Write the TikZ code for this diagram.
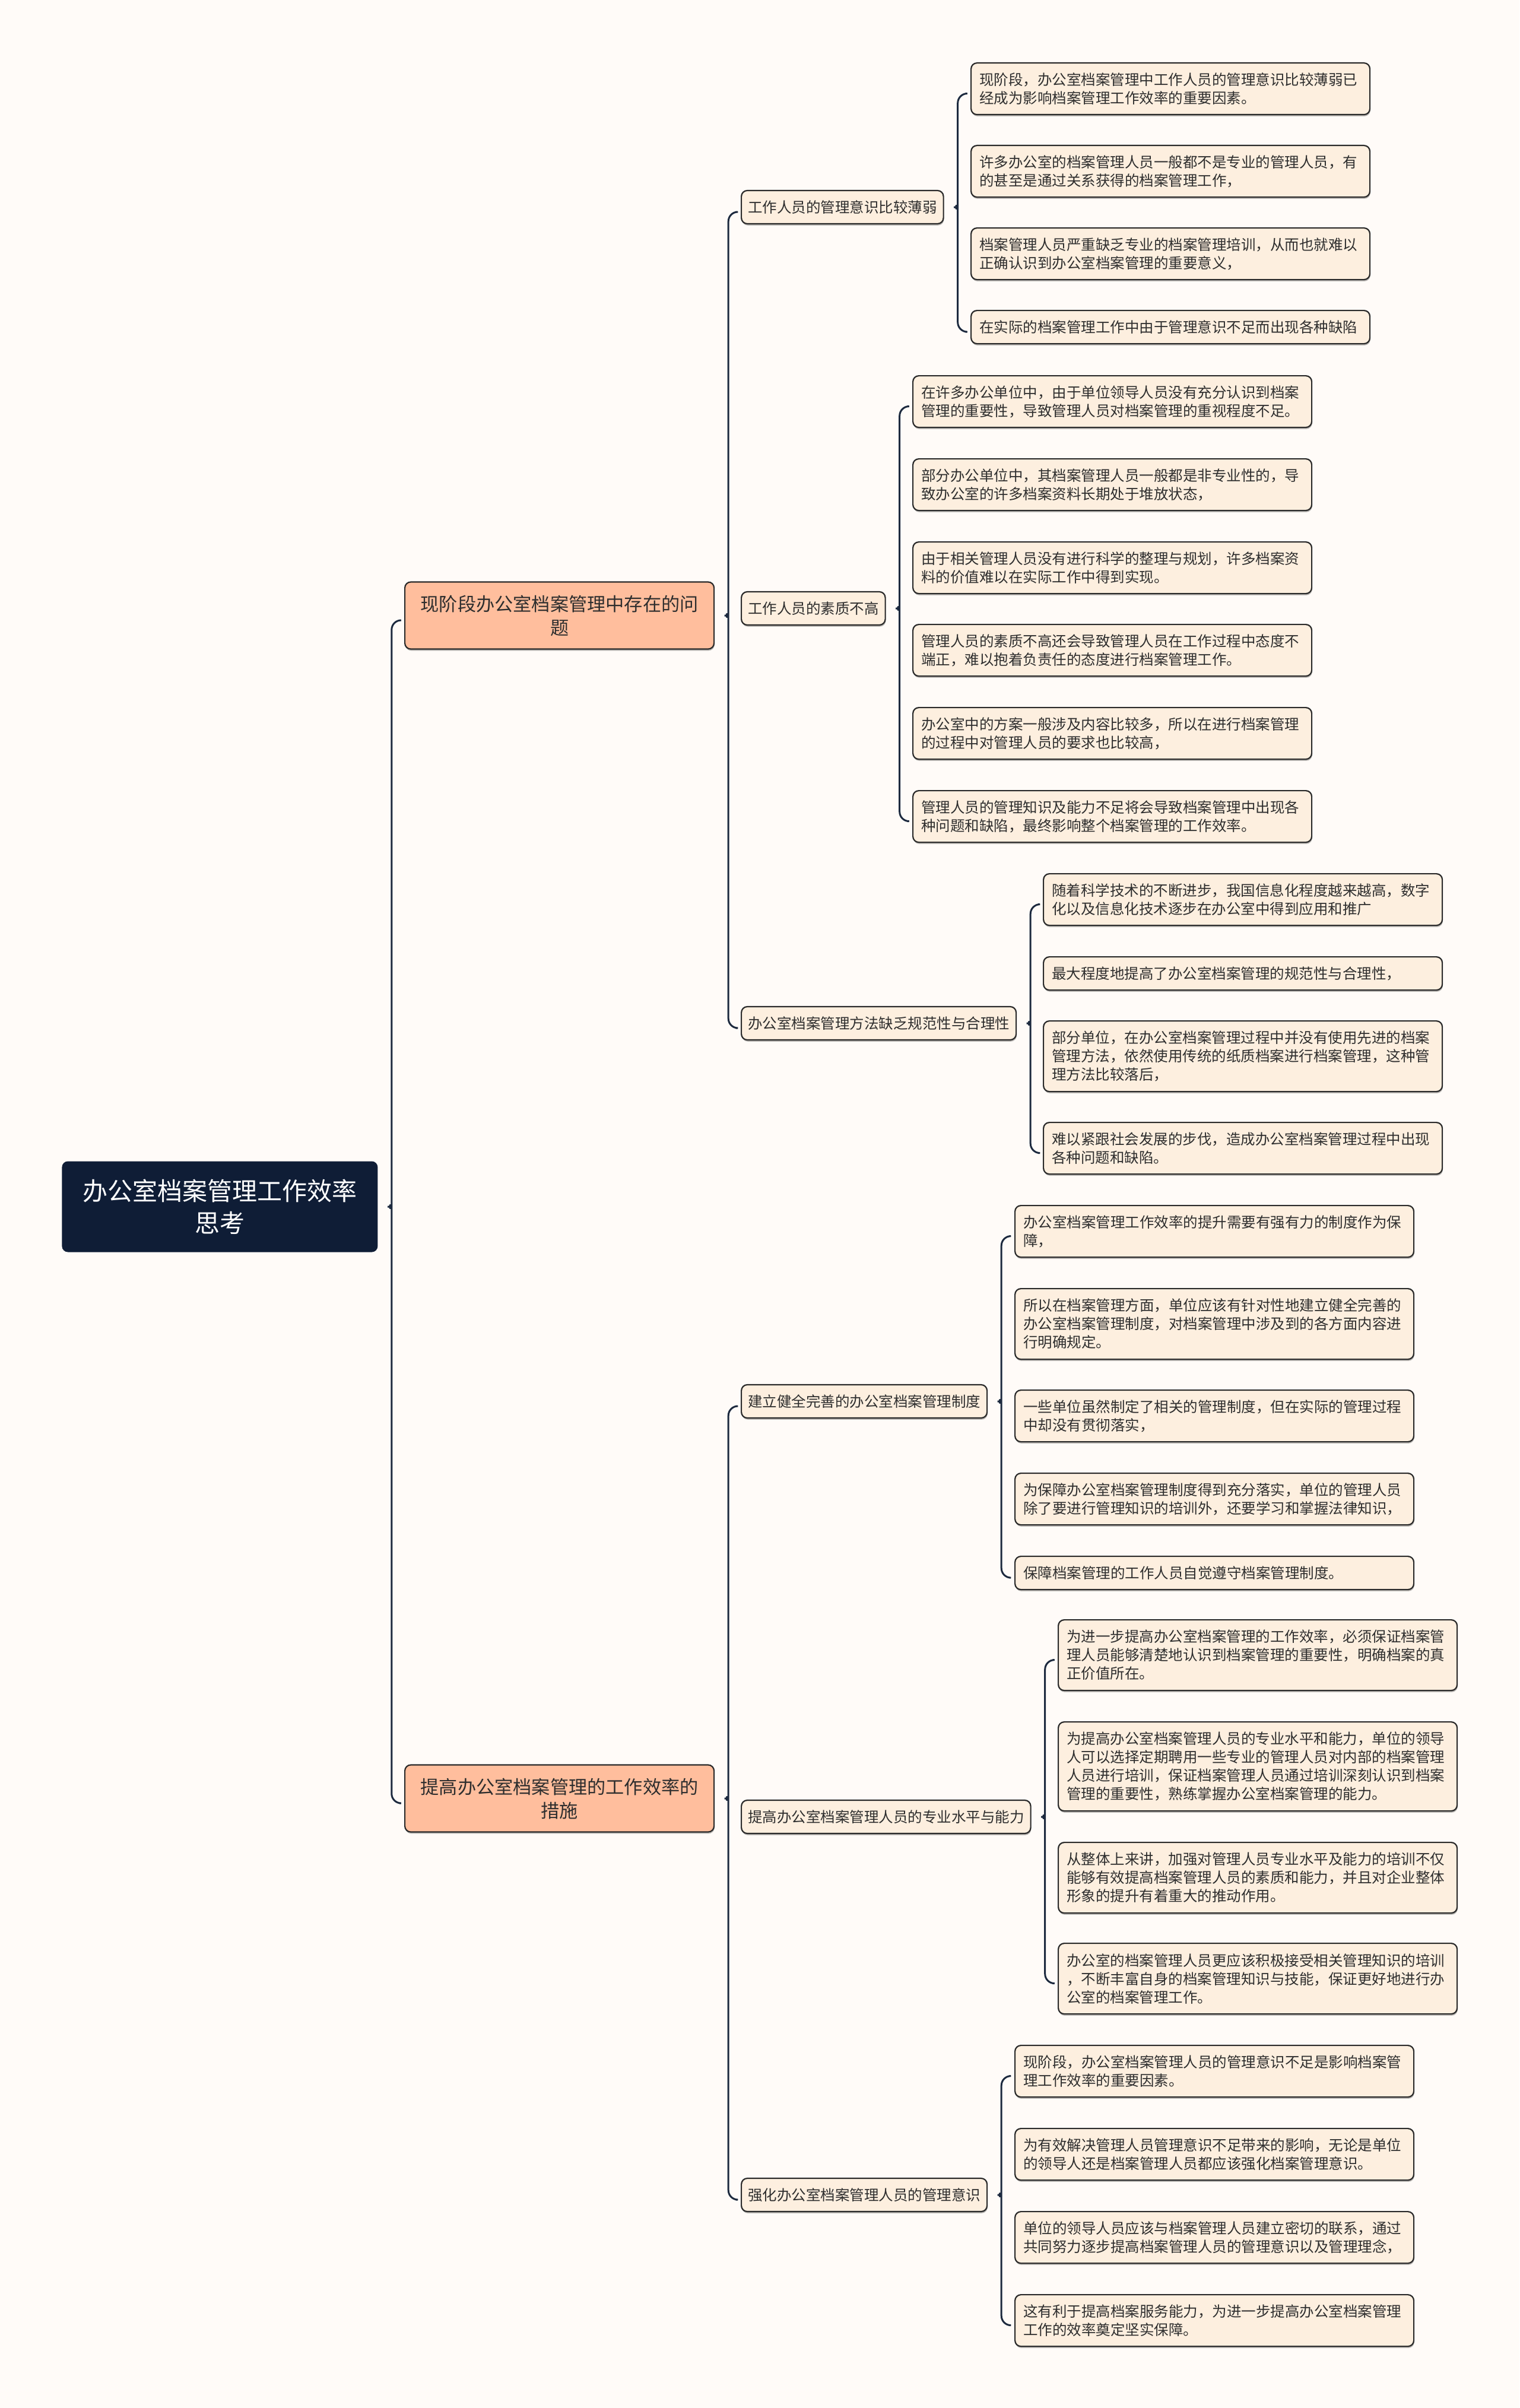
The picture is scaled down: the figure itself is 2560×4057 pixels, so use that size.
\documentclass[tikz,border=0pt]{standalone}
\usepackage{fontspec}
\newfontfamily\cjk{Noto Sans CJK SC}
\usetikzlibrary{calc,shadows}
\definecolor{bgc}{HTML}{FFFBF8}
\definecolor{rootc}{HTML}{0F1D36}
\definecolor{onec}{HTML}{FFBE9D}
\definecolor{leafc}{HTML}{FDEFDF}
\definecolor{linec}{HTML}{1D2A3F}
\definecolor{boxc}{HTML}{2A2A2A}
\definecolor{txtc}{HTML}{2E2E2E}
\newcommand{\fleaf}{\cjk\fontsize{12.25pt}{15.5pt}\selectfont}
\newcommand{\fone}{\cjk\fontsize{15.6pt}{20pt}\selectfont}
\newcommand{\froot}{\cjk\fontsize{21pt}{27pt}\selectfont}
\newcommand{\mmlink}[3]{%
  \draw[conn] let \p1=(#1.east), \p2=(#2.west), \p3=(#3.west) in
    (\x2-4pt,\y2-4pt) -- (\x1+11.5pt,\y2-4pt) -- (\x1+11.5pt,\y1+8pt)
    .. controls (\x1+11.5pt,\y1+3pt) and (\x1+8pt,\y1) .. (\x1+3.5pt,\y1)
    .. controls (\x1+8pt,\y1) and (\x1+11.5pt,\y1-3pt) .. (\x1+11.5pt,\y1-8pt)
    -- (\x1+11.5pt,\y3-4pt) -- (\x3-4pt,\y3-4pt);}
\begin{document}
\begin{tikzpicture}[x=0.5pt,y=-0.5pt,
  box/.style={draw=boxc, line width=1.1pt, rounded corners=5pt, text=txtc,
    drop shadow={shadow xshift=0.4pt, shadow yshift=-1.4pt, opacity=0.28, fill=black}},
  rootbox/.style={anchor=west, fill=rootc, text=white, font=\froot, align=center,
    minimum width=266pt, minimum height=76.5pt, rounded corners=5pt, inner sep=0pt},
  onebox/.style={box, anchor=west, fill=onec, font=\fone, align=center,
    minimum width=260.5pt, minimum height=56.5pt, inner sep=0pt},
  midbox/.style={box, anchor=west, fill=leafc, font=\fleaf, inner xsep=5.5pt, inner ysep=0pt,
    minimum height=28pt},
  leaf/.style={box, anchor=north west, fill=leafc, font=\fleaf, align=left,
    text width=322pt, inner xsep=7pt, inner ysep=0pt},
  lnone/.style={minimum height=28pt},
  lntwo/.style={minimum height=43.5pt},
  lnthree/.style={minimum height=59.5pt},
  lnfour/.style={minimum height=75pt},
  conn/.style={draw=linec, line width=1.5pt, rounded corners=8pt, line cap=round}]
\fill[bgc] (0,0) rectangle (2560,4057);
\useasboundingbox (0,0) rectangle (2560,4057);

% root and level 1
\node[rootbox] (root) at (104,2033) {办公室档案管理工作效率\\思考};
\node[onebox] (A) at (681,1037) {现阶段办公室档案管理中存在的问\\题};
\node[onebox] (B) at (681,3030) {提高办公室档案管理的工作效率的\\措施};

% level 2
\node[midbox] (A1) at (1248,349) {工作人员的管理意识比较薄弱};
\node[midbox] (A2) at (1248,1025) {工作人员的素质不高};
\node[midbox] (A3) at (1248,1724) {办公室档案管理方法缺乏规范性与合理性};
\node[midbox] (B1) at (1248,2361) {建立健全完善的办公室档案管理制度};
\node[midbox] (B2) at (1248,3061) {提高办公室档案管理人员的专业水平与能力};
\node[midbox] (B3) at (1248,3698) {强化办公室档案管理人员的管理意识};

% A1 leaves
\node[leaf,lntwo] (a11) at (1635,105) {现阶段，办公室档案管理中工作人员的管理意识比较薄弱已\\经成为影响档案管理工作效率的重要因素。};
\node[leaf,lntwo] (a12) at (1635,244) {许多办公室的档案管理人员一般都不是专业的管理人员，有\\的甚至是通过关系获得的档案管理工作，};
\node[leaf,lntwo] (a13) at (1635,383) {档案管理人员严重缺乏专业的档案管理培训，从而也就难以\\正确认识到办公室档案管理的重要意义，};
\node[leaf,lnone] (a14) at (1635,522) {在实际的档案管理工作中由于管理意识不足而出现各种缺陷};

% A2 leaves
\node[leaf,lntwo] (a21) at (1537,632) {在许多办公单位中，由于单位领导人员没有充分认识到档案\\管理的重要性，导致管理人员对档案管理的重视程度不足。};
\node[leaf,lntwo] (a22) at (1537,772) {部分办公单位中，其档案管理人员一般都是非专业性的，导\\致办公室的许多档案资料长期处于堆放状态，};
\node[leaf,lntwo] (a23) at (1537,912) {由于相关管理人员没有进行科学的整理与规划，许多档案资\\料的价值难以在实际工作中得到实现。};
\node[leaf,lntwo] (a24) at (1537,1051) {管理人员的素质不高还会导致管理人员在工作过程中态度不\\端正，难以抱着负责任的态度进行档案管理工作。};
\node[leaf,lntwo] (a25) at (1537,1191) {办公室中的方案一般涉及内容比较多，所以在进行档案管理\\的过程中对管理人员的要求也比较高，};
\node[leaf,lntwo] (a26) at (1537,1331) {管理人员的管理知识及能力不足将会导致档案管理中出现各\\种问题和缺陷，最终影响整个档案管理的工作效率。};

% A3 leaves
\node[leaf,lntwo] (a31) at (1757,1471) {随着科学技术的不断进步，我国信息化程度越来越高，数字\\化以及信息化技术逐步在办公室中得到应用和推广};
\node[leaf,lnone] (a32) at (1757,1611) {最大程度地提高了办公室档案管理的规范性与合理性，};
\node[leaf,lnthree] (a33) at (1757,1719) {部分单位，在办公室档案管理过程中并没有使用先进的档案\\管理方法，依然使用传统的纸质档案进行档案管理，这种管\\理方法比较落后，};
\node[leaf,lntwo] (a34) at (1757,1890) {难以紧跟社会发展的步伐，造成办公室档案管理过程中出现\\各种问题和缺陷。};

% B1 leaves
\node[leaf,lntwo] (b11) at (1709,2030) {办公室档案管理工作效率的提升需要有强有力的制度作为保\\障，};
\node[leaf,lnthree] (b12) at (1709,2170) {所以在档案管理方面，单位应该有针对性地建立健全完善的\\办公室档案管理制度，对档案管理中涉及到的各方面内容进\\行明确规定。};
\node[leaf,lntwo] (b13) at (1709,2341) {一些单位虽然制定了相关的管理制度，但在实际的管理过程\\中却没有贯彻落实，};
\node[leaf,lntwo] (b14) at (1709,2481) {为保障办公室档案管理制度得到充分落实，单位的管理人员\\除了要进行管理知识的培训外，还要学习和掌握法律知识，};
\node[leaf,lnone] (b15) at (1709,2621) {保障档案管理的工作人员自觉遵守档案管理制度。};

% B2 leaves
\node[leaf,lnthree] (b21) at (1782,2728) {为进一步提高办公室档案管理的工作效率，必须保证档案管\\理人员能够清楚地认识到档案管理的重要性，明确档案的真\\正价值所在。};
\node[leaf,lnfour] (b22) at (1782,2900) {为提高办公室档案管理人员的专业水平和能力，单位的领导\\人可以选择定期聘用一些专业的管理人员对内部的档案管理\\人员进行培训，保证档案管理人员通过培训深刻认识到档案\\管理的重要性，熟练掌握办公室档案管理的能力。};
\node[leaf,lnthree] (b23) at (1782,3103) {从整体上来讲，加强对管理人员专业水平及能力的培训不仅\\能够有效提高档案管理人员的素质和能力，并且对企业整体\\形象的提升有着重大的推动作用。};
\node[leaf,lnthree] (b24) at (1782,3273) {办公室的档案管理人员更应该积极接受相关管理知识的培训\\，不断丰富自身的档案管理知识与技能，保证更好地进行办\\公室的档案管理工作。};

% B3 leaves
\node[leaf,lntwo] (b31) at (1709,3445) {现阶段，办公室档案管理人员的管理意识不足是影响档案管\\理工作效率的重要因素。};
\node[leaf,lntwo] (b32) at (1709,3585) {为有效解决管理人员管理意识不足带来的影响，无论是单位\\的领导人还是档案管理人员都应该强化档案管理意识。};
\node[leaf,lntwo] (b33) at (1709,3725) {单位的领导人员应该与档案管理人员建立密切的联系，通过\\共同努力逐步提高档案管理人员的管理意识以及管理理念，};
\node[leaf,lntwo] (b34) at (1709,3865) {这有利于提高档案服务能力，为进一步提高办公室档案管理\\工作的效率奠定坚实保障。};

% connectors
\mmlink{root}{A}{B}
\mmlink{A}{A1}{A3}
\mmlink{B}{B1}{B3}
\mmlink{A1}{a11}{a14}
\mmlink{A2}{a21}{a26}
\mmlink{A3}{a31}{a34}
\mmlink{B1}{b11}{b15}
\mmlink{B2}{b21}{b24}
\mmlink{B3}{b31}{b34}
\end{tikzpicture}
\end{document}
